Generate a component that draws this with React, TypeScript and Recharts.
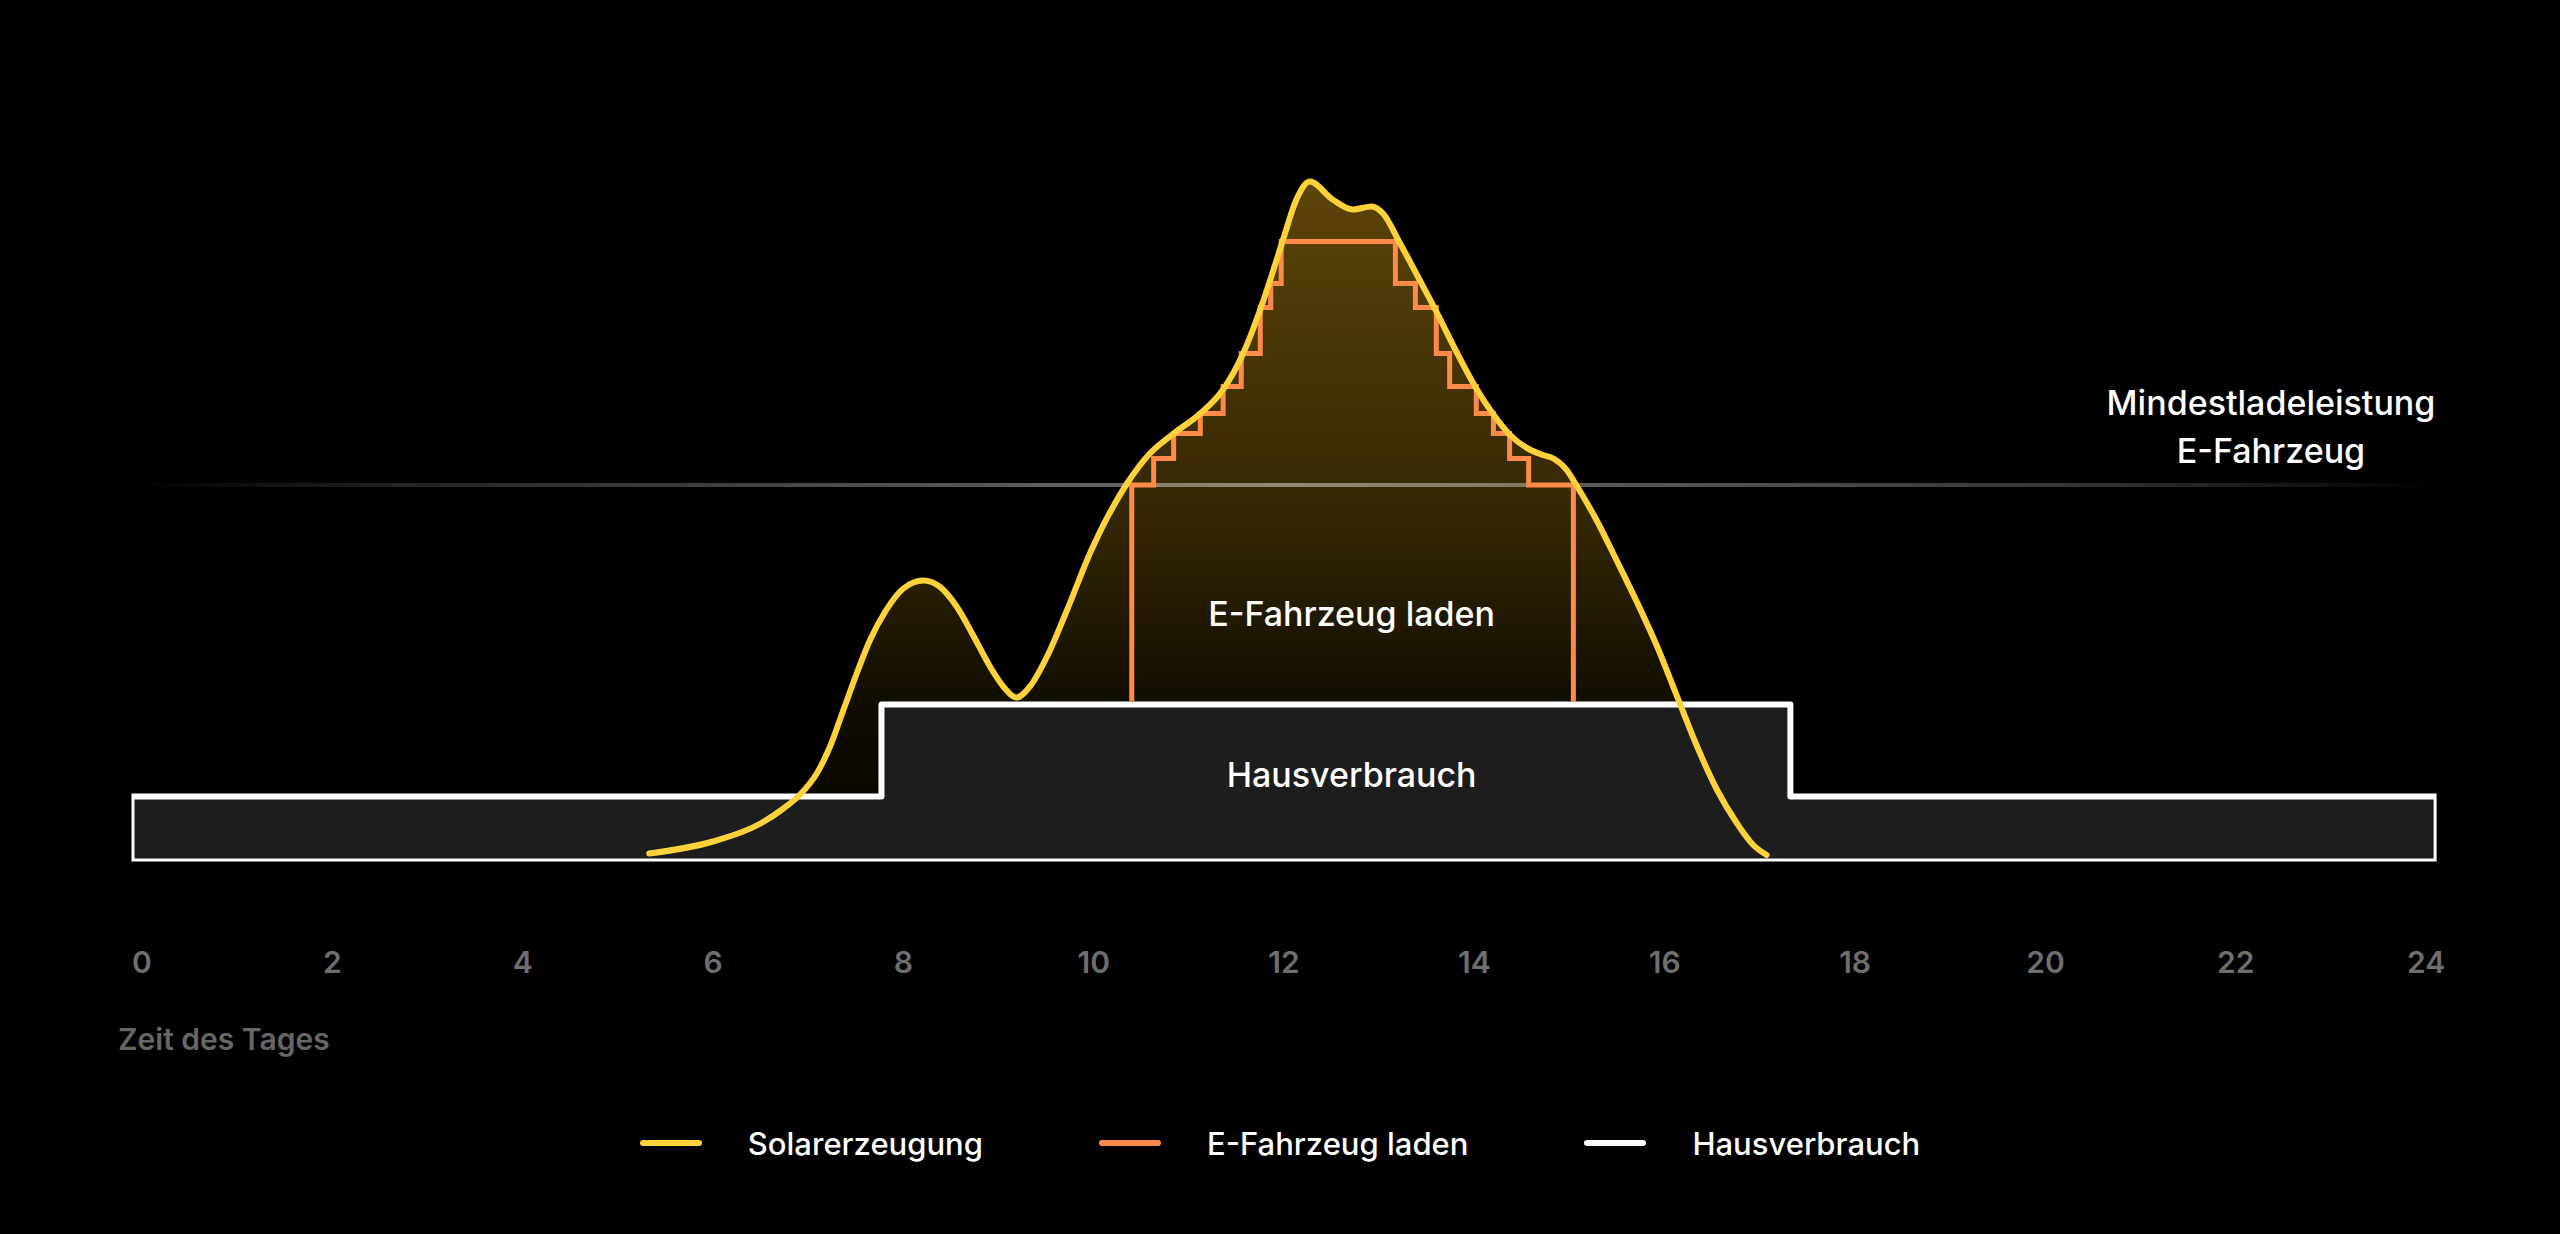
import React from "react";
import {
  Area,
  ComposedChart,
  Label,
  Legend,
  Line,
  ReferenceDot,
  ReferenceLine,
  XAxis,
  YAxis,
} from "recharts";

// Tagesverlauf: Solarerzeugung, Laden des E-Fahrzeugs und Hausverbrauch (kW über Stunden)
const solarHours = [
  5.33, 6.0, 6.5, 6.74, 6.91, 7.09, 7.23, 7.37, 7.51, 7.65, 7.82, 8.0, 8.21,
  8.38, 8.56, 8.74, 8.91, 9.05, 9.19, 9.33, 9.51, 9.72, 9.96, 10.35, 10.59,
  10.84, 11.12, 11.36, 11.57, 11.75, 11.89, 11.99, 12.13, 12.27, 12.51, 12.72,
  12.92, 13.04, 13.22, 13.4, 13.6, 13.81, 14.02, 14.2, 14.37, 14.58, 14.72,
  14.83, 14.97, 15.07, 15.28, 15.49, 15.71, 15.92, 16.13, 16.34, 16.55, 16.76,
  16.93, 17.07,
];
const solarKw = [
  0.08, 0.2, 0.38, 0.53, 0.665, 0.88, 1.15, 1.515, 1.88, 2.215, 2.515, 2.73,
  2.81, 2.75, 2.55, 2.25, 1.95, 1.75, 1.64, 1.75, 2.05, 2.515, 3.08, 3.78, 4.08,
  4.28, 4.48, 4.72, 5.08, 5.52, 5.92, 6.22, 6.62, 6.8, 6.62, 6.52, 6.55, 6.48,
  6.18, 5.86, 5.5, 5.1, 4.73, 4.47, 4.27, 4.12, 4.065, 4.03, 3.915, 3.765,
  3.42, 3.02, 2.59, 2.15, 1.65, 1.15, 0.715, 0.38, 0.165, 0.065,
];

const chargeHours = [
  10.4, 10.4, 10.63, 10.84, 11.12, 11.36, 11.55, 11.75, 11.86, 11.97, 13.17,
  13.38, 13.6, 13.74, 14.02, 14.2, 14.37, 14.57, 15.04,
];
const chargeKw = [
  1.6, 3.765, 4.03, 4.28, 4.48, 4.75, 5.08, 5.54, 5.78, 6.2, 5.78, 5.54, 5.08,
  4.75, 4.48, 4.28, 4.03, 3.765, 1.6,
];

const houseHours = [-0.11, -0.11, 7.77, 7.77, 17.32, 17.32, 24.11, 24.11, -0.11];
const houseKw = [0, 0.65, 0.65, 1.57, 1.57, 0.65, 0.65, 0, 0];

const minChargeKw = 3.765;

const hourTicks = [0, 2, 4, 6, 8, 10, 12, 14, 16, 18, 20, 22, 24];

const legendNames = ["Solarerzeugung", "E-Fahrzeug laden", "Hausverbrauch"];
const legendColors = ["#FFD23C", "#FF8A4A", "#FFFFFF"];

const toRows = (hours: number[], kw: number[]) =>
  hours.map((h, i) => ({ h, kw: kw[i] }));

const solarData = toRows(solarHours, solarKw);
const chargeData = toRows(chargeHours, chargeKw);
const houseData = toRows(houseHours, houseKw);

const labelStyle = { fill: "#FFFFFF", fontSize: 34, fontWeight: 500 };

function renderLegend() {
  return (
    <div
      style={{
        height: 182,
        display: "flex",
        alignItems: "center",
        justifyContent: "center",
      }}
    >
      {legendNames.map((name, i) => (
        <div
          key={name}
          style={{
            display: "flex",
            alignItems: "center",
            marginLeft: i === 0 ? 0 : 116,
          }}
        >
          <span
            style={{
              width: 62,
              height: 6,
              borderRadius: 3,
              background: legendColors[i],
              marginRight: 46,
            }}
          />
          <span style={{ color: "#FFFFFF", fontSize: 31, fontWeight: 500 }}>
            {name}
          </span>
        </div>
      ))}
    </div>
  );
}

function AxisTitle(props: any) {
  const { viewBox } = props;
  return (
    <text
      x={viewBox.x - 13.5}
      y={viewBox.y + 188.5}
      fill="#666666"
      fontSize={30}
      fontWeight={600}
    >
      Zeit des Tages
    </text>
  );
}

export default function App() {
  return (
    <div
      style={{
        width: 2560,
        height: 1234,
        background: "#000000",
        fontFamily: "Inter, 'Noto Sans', sans-serif",
      }}
    >
      <style>{"body{margin:0;background:#000}"}</style>
      <ComposedChart
        width={2560}
        height={1234}
        margin={{ top: 61.5, right: 123.4, left: 131.5, bottom: 0 }}
      >
        <defs>
          <linearGradient id="solarFill" x1="0" y1="0" x2="0" y2="1">
            <stop offset="0%" stopColor="#FFBE14" stopOpacity={0.36} />
            <stop offset="50%" stopColor="#FFBE14" stopOpacity={0.2} />
            <stop offset="78%" stopColor="#FFBE14" stopOpacity={0.06} />
            <stop offset="100%" stopColor="#FFBE14" stopOpacity={0.02} />
          </linearGradient>
          <linearGradient
            id="minGlow"
            gradientUnits="userSpaceOnUse"
            x1="131"
            y1="0"
            x2="2437"
            y2="0"
          >
            <stop offset="0%" stopColor="#FFFFFF" stopOpacity={0} />
            <stop offset="12%" stopColor="#FFFFFF" stopOpacity={0.14} />
            <stop offset="50%" stopColor="#FFFFFF" stopOpacity={0.45} />
            <stop offset="85%" stopColor="#FFFFFF" stopOpacity={0.2} />
            <stop offset="100%" stopColor="#FFFFFF" stopOpacity={0} />
          </linearGradient>
        </defs>
        <XAxis
          type="number"
          dataKey="h"
          domain={[-0.11, 24.11]}
          allowDataOverflow
          ticks={hourTicks}
          interval={0}
          axisLine={false}
          tickLine={false}
          tickSize={0}
          tickMargin={90}
          height={190.5}
          tick={{ fill: "#6E6E6E", fontSize: 30, fontWeight: 600 }}
        >
          <Label content={AxisTitle} />
        </XAxis>
        <YAxis type="number" domain={[0, 8]} allowDataOverflow hide />

        <Area
          data={solarData}
          dataKey="kw"
          type="monotone"
          stroke="none"
          fill="url(#solarFill)"
          fillOpacity={1}
          legendType="none"
          activeDot={false}
          isAnimationActive={false}
        />
        <ReferenceLine
          y={minChargeKw}
          stroke="url(#minGlow)"
          strokeWidth={4}
        />
        <Line
          data={chargeData}
          dataKey="kw"
          name="E-Fahrzeug laden"
          type="stepAfter"
          stroke="#FF8A4A"
          strokeWidth={5}
          dot={false}
          activeDot={false}
          isAnimationActive={false}
        />
        <Area
          data={houseData}
          dataKey="kw"
          name="Hausverbrauch"
          type="linear"
          stroke="#FFFFFF"
          strokeWidth={6}
          strokeLinejoin="round"
          strokeLinecap="round"
          fill="#1D1D1D"
          fillOpacity={1}
          activeDot={false}
          isAnimationActive={false}
        />
        <Line
          data={solarData}
          dataKey="kw"
          name="Solarerzeugung"
          type="monotone"
          stroke="#FFD23C"
          strokeWidth={6}
          strokeLinecap="round"
          strokeLinejoin="round"
          dot={false}
          activeDot={false}
          isAnimationActive={false}
        />

        <ReferenceDot
          x={12.71}
          y={2.475}
          r={0}
          fill="none"
          stroke="none"
          label={{ value: "E-Fahrzeug laden", position: "center", ...labelStyle }}
        />
        <ReferenceDot
          x={12.71}
          y={0.865}
          r={0}
          fill="none"
          stroke="none"
          label={{ value: "Hausverbrauch", position: "center", ...labelStyle }}
        />
        <ReferenceDot
          x={22.37}
          y={4.585}
          r={0}
          fill="none"
          stroke="none"
          label={{ value: "Mindestladeleistung", position: "center", ...labelStyle }}
        />
        <ReferenceDot
          x={22.37}
          y={4.105}
          r={0}
          fill="none"
          stroke="none"
          label={{ value: "E-Fahrzeug", position: "center", ...labelStyle }}
        />

        <Legend
          verticalAlign="bottom"
          align="center"
          content={renderLegend}
          wrapperStyle={{ left: 0, width: 2560 }}
        />
      </ComposedChart>
    </div>
  );
}
